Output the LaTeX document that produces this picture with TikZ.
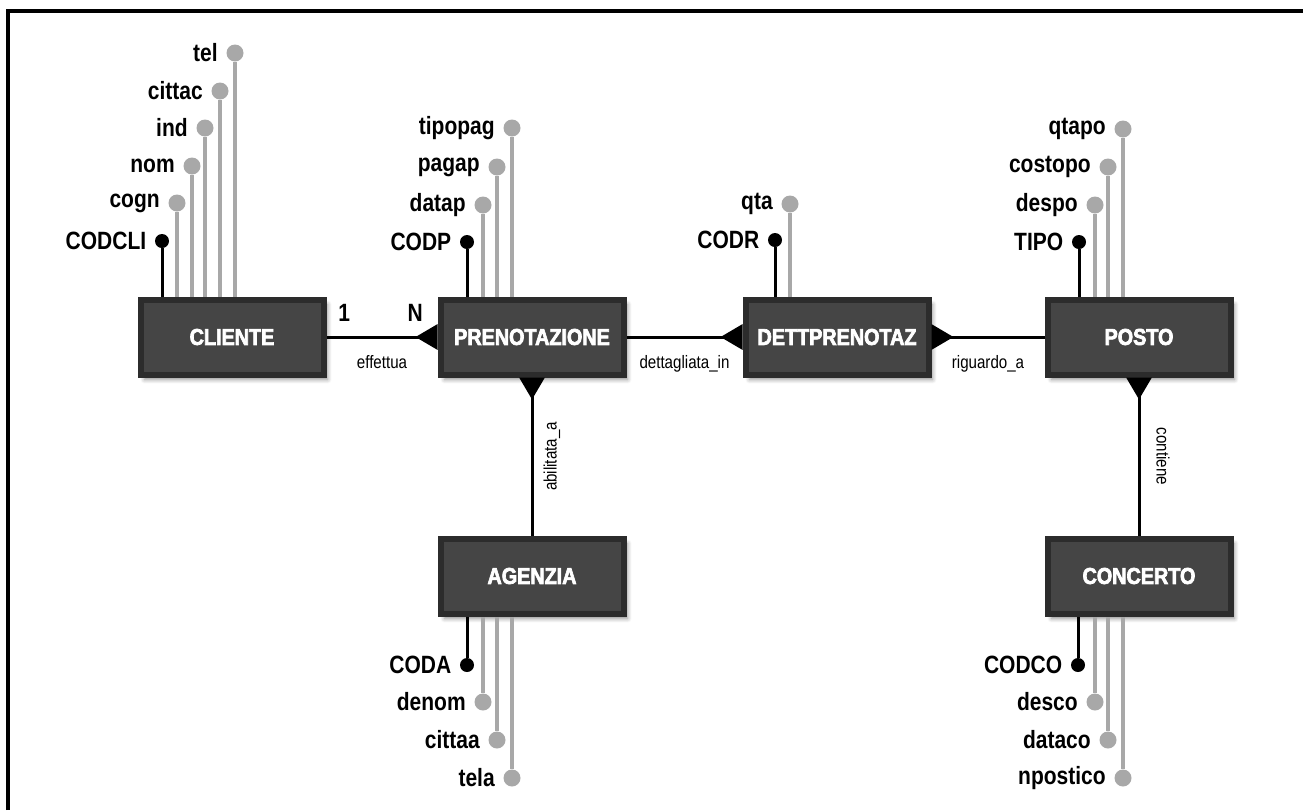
\documentclass[tikz,border=0pt]{standalone}
\usepackage{fontspec}
\setmainfont{Liberation Sans}
\newfontfamily\condfamily[FakeStretch=0.84]{Liberation Sans}
\newfontfamily\heavyfamily[FakeStretch=0.86,FakeBold=3]{Liberation Sans}
\newcommand{\attrfont}{\condfamily\bfseries\fontsize{12.5}{14}\selectfont}
\newcommand{\entfont}{\heavyfamily\bfseries\fontsize{11.5}{13}\selectfont}
\newcommand{\relfont}{\condfamily\fontsize{9}{11}\selectfont}
\usetikzlibrary{arrows.meta, shadows.blur}
\definecolor{entfill}{HTML}{454545}
\definecolor{entborder}{HTML}{2C2C2C}
\definecolor{attrgray}{HTML}{A8A8A8}

\begin{document}
\begin{tikzpicture}[
    x=0.5pt, y=-0.5pt,
    entity/.style={
        rectangle,
        draw=entborder,
        line width=3pt,
        fill=entfill,
        minimum width=91.5pt,
        minimum height=37.5pt,
        font=\entfont,
        text=white,
        blur shadow={shadow xshift=2pt, shadow yshift=-2.5pt, shadow blur steps=6, shadow opacity=45},
    },
    key/.style={
        circle,
        fill=black,
        minimum size=7pt,
        inner sep=0pt,
    },
    attr/.style={
        circle,
        fill=attrgray,
        minimum size=8.5pt,
        inner sep=0pt,
    },
    keyline/.style={
        line width=1.5pt,
    },
    attrline/.style={
        line width=2pt,
        draw=attrgray,
    },
    rel/.style={
        line width=1.5pt,
        -{Triangle[reversed, length=11pt, width=12.5pt]},
    },
    rellabel/.style={
        font=\relfont,
    },
    every label/.style={
        font=\attrfont,
        inner sep=1pt,
    },
    label distance=3pt,
]
    \useasboundingbox (0,0) rectangle (1303,810);

    % Frame
    \draw[line width=2pt] (8,810) -- (8,11) -- (1303,11);

    % Entities
    \node[entity] (cliente) at (232,337) {CLIENTE};
    \node[entity] (prenot) at (532,337) {PRENOTAZIONE};
    \node[entity] (dett) at (837,337) {DETTPRENOTAZ};
    \node[entity] (posto) at (1139,337) {POSTO};
    \node[entity] (agenzia) at (532,576) {AGENZIA};
    \node[entity] (concerto) at (1139,576) {CONCERTO};

    % Attributes of CLIENTE
    \node[key, label=left:CODCLI] (codcli) at (162,241) {};
    \node[attr, label=left:cogn] (cogn) at (177,203) {};
    \node[attr, label=left:nom] (nom) at (192,166) {};
    \node[attr, label=left:ind] (ind) at (205,128) {};
    \node[attr, label=left:cittac] (cittac) at (220,91) {};
    \node[attr, label=left:tel] (tel) at (235,53) {};
    \draw[keyline] (codcli.south) -- (codcli |- cliente.north);
    \draw[attrline] (cogn.south) -- (cogn |- cliente.north);
    \draw[attrline] (nom.south) -- (nom |- cliente.north);
    \draw[attrline] (ind.south) -- (ind |- cliente.north);
    \draw[attrline] (cittac.south) -- (cittac |- cliente.north);
    \draw[attrline] (tel.south) -- (tel |- cliente.north);

    % Attributes of PRENOTAZIONE
    \node[key, label=left:CODP] (codp) at (467,242) {};
    \node[attr, label=left:datap] (datap) at (483,205) {};
    \node[attr, label=left:pagap] (pagap) at (497,167) {};
    \node[attr, label=left:tipopag] (tipopag) at (512,128) {};
    \draw[keyline] (codp.south) -- (codp |- prenot.north);
    \draw[attrline] (datap.south) -- (datap |- prenot.north);
    \draw[attrline] (pagap.south) -- (pagap |- prenot.north);
    \draw[attrline] (tipopag.south) -- (tipopag |- prenot.north);

    % Attributes of DETTPRENOTAZ
    \node[key, label=left:CODR] (codr) at (775,240) {};
    \node[attr, label=left:qta] (qta) at (790,204) {};
    \draw[keyline] (codr.south) -- (codr |- dett.north);
    \draw[attrline] (qta.south) -- (qta |- dett.north);

    % Attributes of POSTO
    \node[key, label=left:TIPO] (tipo) at (1079,242) {};
    \node[attr, label=left:despo] (despo) at (1095,205) {};
    \node[attr, label=left:costopo] (costopo) at (1108,167) {};
    \node[attr, label=left:qtapo] (qtapo) at (1123,129) {};
    \draw[keyline] (tipo.south) -- (tipo |- posto.north);
    \draw[attrline] (despo.south) -- (despo |- posto.north);
    \draw[attrline] (costopo.south) -- (costopo |- posto.north);
    \draw[attrline] (qtapo.south) -- (qtapo |- posto.north);

    % Attributes of AGENZIA
    \node[key, label=left:CODA] (coda) at (467,665) {};
    \node[attr, label=left:denom] (denom) at (483,702) {};
    \node[attr, label=left:cittaa] (cittaa) at (497,740) {};
    \node[attr, label=left:tela] (tela) at (512,778) {};
    \draw[keyline] (coda.north) -- (coda |- agenzia.south);
    \draw[attrline] (denom.north) -- (denom |- agenzia.south);
    \draw[attrline] (cittaa.north) -- (cittaa |- agenzia.south);
    \draw[attrline] (tela.north) -- (tela |- agenzia.south);

    % Attributes of CONCERTO
    \node[key, label=left:CODCO] (codco) at (1078,665) {};
    \node[attr, label=left:desco] (desco) at (1095,702) {};
    \node[attr, label=left:dataco] (dataco) at (1108,740) {};
    \node[attr, label=left:npostico] (npostico) at (1123,778) {};
    \draw[keyline] (codco.north) -- (codco |- concerto.south);
    \draw[attrline] (desco.north) -- (desco |- concerto.south);
    \draw[attrline] (dataco.north) -- (dataco |- concerto.south);
    \draw[attrline] (npostico.north) -- (npostico |- concerto.south);

    % Relationships
    \draw[rel] (cliente) -- (prenot)
        node[rellabel, midway, below=5pt] {effettua}
        node[font=\attrfont, pos=.16, above=3.5pt] {1}
        node[font=\attrfont, pos=.8, above=3.5pt] {N};
    \draw[rel] (prenot) -- (dett)
        node[rellabel, midway, below=5pt] {dettagliata\_in};
    \draw[rel] (posto) -- (dett)
        node[rellabel, midway, below=5pt] {riguardo\_a};
    \draw[rel] (agenzia) -- (prenot)
        node[rellabel, midway, xshift=10pt, rotate=90] {abilitata\_a};
    \draw[rel] (concerto) -- (posto)
        node[rellabel, midway, xshift=12pt, rotate=-90] {contiene};
\end{tikzpicture}
\end{document}
